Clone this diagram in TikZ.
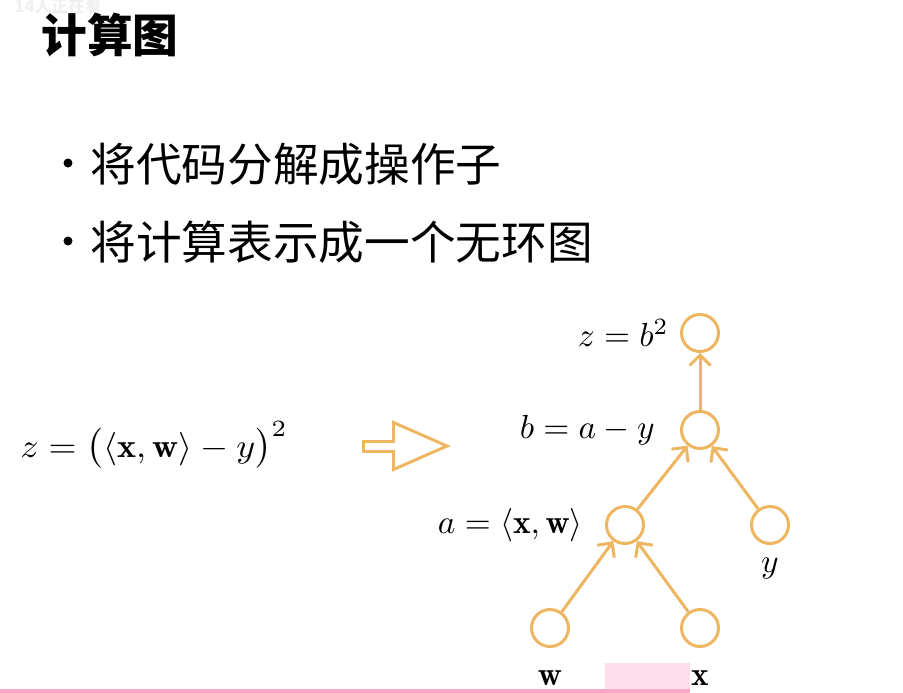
\documentclass[tikz,border=0pt]{standalone}
\usepackage{amsmath}
\usepackage{fontspec}
\newfontfamily\cjk{Noto Sans CJK SC}
\usetikzlibrary{positioning}
\usetikzlibrary{arrows.meta}
\definecolor{graphorange}{RGB}{238,182,96}
\definecolor{barpink}{RGB}{247,168,200}
\definecolor{lightpink}{RGB}{252,221,233}
\newcommand{\lblmath}[1]{\scalebox{1.9}{$#1$}}

\begin{document}
\begin{tikzpicture}[x=0.02cm,y=-0.02cm,
		op/.style={circle,draw=graphorange,line width=1.7pt,minimum size=0.74cm,inner sep=0pt},
		lab/.style={inner sep=0pt},
		conn/.style={draw=graphorange,line width=1.7pt,-{Straight Barb[length=6pt,width=12pt]}},
		zh/.style={inner sep=0pt,anchor=west,font=\cjk\fontsize{26}{30}\selectfont}]

		\useasboundingbox[fill=white] (0,0) rectangle (903,693);

		\node at (14,6)[anchor=west,inner sep=0pt,text=black!6,font=\cjk\bfseries\fontsize{9.5}{11}\selectfont] (viewers) {14人正在看};
		\node at (41,35)[zh,font=\cjk\bfseries\fontsize{26}{30}\selectfont] (title) {计算图};

		\fill (68,163) circle (0.09cm);
		\fill (68,241) circle (0.09cm);
		\node at (90,164)[zh] (item1) {将代码分解成操作子};
		\node at (90,242)[zh] (item2) {将计算表示成一个无环图};

		\node at (20,457)[lab,anchor=base west] (formula) {\scalebox{2.05}[1.9]{$z=\bigl(\langle\mathbf{x},\mathbf{w}\rangle-y\bigr)^2$}};

		\draw[graphorange,line width=1.7pt] (363.5,441.5) -- (393.5,441.5) -- (393.5,422.5) -- (447,446) -- (393.5,469.5) -- (393.5,451.5) -- (363.5,451.5) -- cycle;

		\node[op] (zop) at (700,333) {};
		\node[op] (bop) at (700,430) {};
		\node[op] (aop) at (625,525) {};
		\node[op] (yop) at (770,525) {};
		\node[op] (wop) at (550,628) {};
		\node[op] (xop) at (700,628) {};

		\node[lab,left=0.22cm of zop] (zlab) {\lblmath{z=b^2}};
		\node[lab,left=0.5cm of bop] (blab) {\lblmath{b=a-y}};
		\node[lab,left=0.44cm of aop] (alab) {\lblmath{a=\langle\mathbf{x},\mathbf{w}\rangle}};
		\node[lab,below=0.26cm of yop] (ylab) {\lblmath{y}};
		\node[lab,below=0.44cm of wop] (wlab) {\lblmath{\mathbf{w}}};
		\node[lab,below=0.44cm of xop] (xlab) {\lblmath{\mathbf{x}}};

		\draw[conn] (bop) -- (zop);
		\draw[conn] (aop) -- (bop);
		\draw[conn] (yop) -- (bop);
		\draw[conn] (wop) -- (aop);
		\draw[conn] (xop) -- (aop);

		\fill[lightpink] (605,663) rectangle (690,689);
		\fill[barpink] (0,689) rectangle (690,693);
	\end{tikzpicture}
\end{document}
